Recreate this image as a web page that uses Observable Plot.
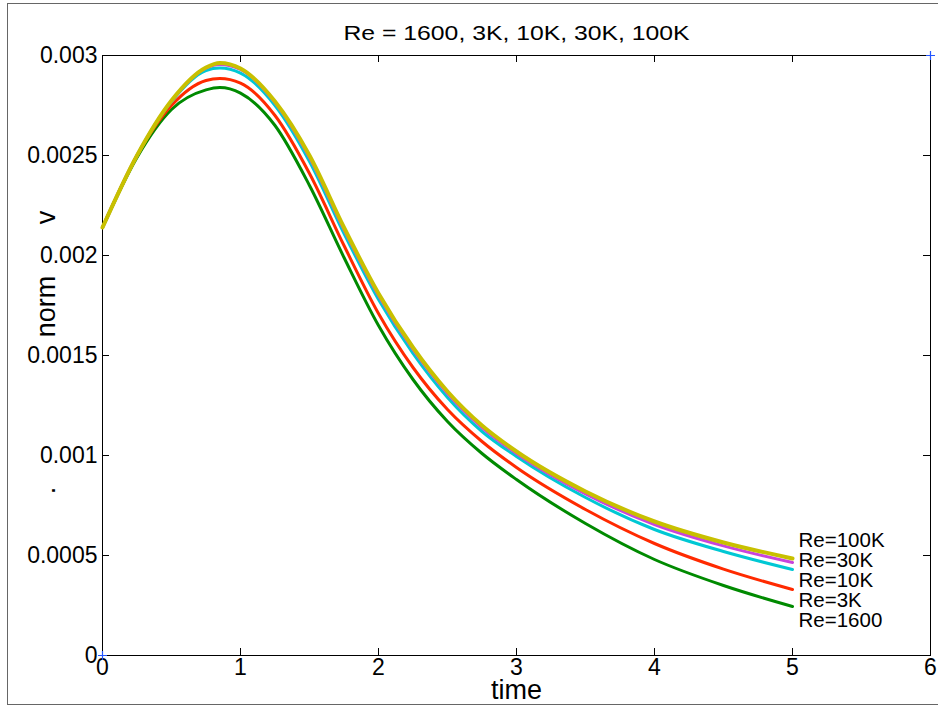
<!DOCTYPE html>
<html>
<head>
<meta charset="utf-8">
<script src="https://cdn.jsdelivr.net/npm/d3@7"></script>
<script src="https://cdn.jsdelivr.net/npm/@observablehq/plot@0.6"></script>
<style>
  html, body { margin: 0; padding: 0; background: #fff; }
  #wrap { position: relative; width: 938px; height: 708px; overflow: hidden; }
  #border { position: absolute; left: 7px; top: 3px; width: 940px; height: 702px; border: 1px solid #666; box-sizing: border-box; pointer-events: none; }
</style>
</head>
<body>
<div id="wrap"><div id="border"></div></div>
<script>
const titleText = "Re = 1600, 3K, 10K, 30K, 100K";
const xLabel = "time";
const yLabelParts = ["v", "norm", "."];
const times  = [0, 0.25, 0.5, 0.75, 0.85, 1, 1.25, 1.5, 1.75, 2, 2.25, 2.5, 2.75, 3, 3.5, 4, 4.5, 5];
const re1600 = [0.00214, 0.00249, 0.00273, 0.002828, 0.00284, 0.002812, 0.00265, 0.00235, 0.00199, 0.00165, 0.00138, 0.00117, 0.00101, 0.00088, 0.00066, 0.00048, 0.00035, 0.000245];
const re3K   = [0.00214, 0.0025, 0.00275, 0.002875, 0.002885, 0.002862, 0.0027, 0.00241, 0.00205, 0.00171, 0.00144, 0.00123, 0.00107, 0.00094, 0.00073, 0.00056, 0.000432, 0.00033];
const re10K  = [0.00214, 0.0025, 0.00277, 0.002925, 0.002937, 0.002912, 0.00275, 0.00247, 0.00211, 0.00178, 0.00151, 0.00129, 0.00112, 0.000995, 0.00079, 0.00063, 0.00052, 0.00043];
const re30K  = [0.00214, 0.0025, 0.002773, 0.002937, 0.002955, 0.00293, 0.002765, 0.00249, 0.00213, 0.0018, 0.00153, 0.00131, 0.00114, 0.00101, 0.000808, 0.000655, 0.000548, 0.000465];
const re100K = [0.00214, 0.0025, 0.002775, 0.00294, 0.002963, 0.002935, 0.00277, 0.0025, 0.00214, 0.00181, 0.00154, 0.00132, 0.00115, 0.00102, 0.00082, 0.00067, 0.000565, 0.000485];
const seriesNames = ["Re=1600", "Re=3K", "Re=10K", "Re=30K", "Re=100K"];
const seriesValues = [re1600, re3K, re10K, re30K, re100K];
const seriesColors = ["#008a00", "#ff2a00", "#00c8d4", "#c844dc", "#c8c000"];
const xTicks = [0, 1, 2, 3, 4, 5, 6];
const yTicks = [0, 0.0005, 0.001, 0.0015, 0.002, 0.0025, 0.003];
const yTickLabels = ["0", "0.0005", "0.001", "0.0015", "0.002", "0.0025", "0.003"];

const W = 938, H = 708, ML = 102, MR = 8, MT = 55, MB = 53;
const rows = [];
seriesNames.forEach((name, i) => {
  times.forEach((t, j) => rows.push({series: name, t, v: seriesValues[i][j]}));
});
const xDomain = [xTicks[0], xTicks[xTicks.length - 1]];
const yDomain = [yTicks[0], yTicks[yTicks.length - 1]];
const corners = [{t: xDomain[0], v: yDomain[0]}, {t: xDomain[1], v: yDomain[1]}];
const lastT = times[times.length - 1];
const topEnd = re100K[re100K.length - 1];
const legendOrder = seriesNames.slice().reverse();
const fontFam = "'Liberation Sans', Arial, Helvetica, sans-serif";

// inward tick length (7px) expressed in data units of each scale
const TL = 7;
const tickDX = (xDomain[1] - xDomain[0]) * TL / (W - ML - MR);
const tickDY = (yDomain[1] - yDomain[0]) * TL / (H - MT - MB);

const marks = [
  Plot.frame({stroke: "black", strokeWidth: 1}),
  Plot.ruleX(xTicks, {x: d => d, y1: () => yDomain[0], y2: () => yDomain[0] + tickDY, stroke: "black", strokeWidth: 1}),
  Plot.ruleX(xTicks, {x: d => d, y1: () => yDomain[1], y2: () => yDomain[1] - tickDY, stroke: "black", strokeWidth: 1}),
  Plot.ruleY(yTicks, {y: d => d, x1: () => xDomain[0], x2: () => xDomain[0] + tickDX, stroke: "black", strokeWidth: 1}),
  Plot.ruleY(yTicks, {y: d => d, x1: () => xDomain[1], x2: () => xDomain[1] - tickDX, stroke: "black", strokeWidth: 1}),
  Plot.axisX({ticks: xTicks, tickSize: 0, tickPadding: 3, label: null, anchor: "bottom", fontSize: 23, tickFormat: d => String(d)}),
  Plot.axisY({ticks: yTicks, tickSize: 0, tickPadding: 5, label: null, anchor: "left", fontSize: 23, tickFormat: (d, i) => yTickLabels[i]}),
];
seriesNames.forEach((name, i) => {
  marks.push(Plot.line(rows.filter(r => r.series === name), {
    x: "t", y: "v", stroke: seriesColors[i], strokeWidth: i === 4 ? 4 : 3, curve: "monotone-x"
  }));
});
marks.push(Plot.dot(corners, {x: "t", y: "v", symbol: "plus", r: 3, stroke: "#2255ff", strokeWidth: 1.2}));
legendOrder.forEach((name, k) => {
  marks.push(Plot.text([name], {x: () => lastT, y: () => topEnd, text: d => d, textAnchor: "start", dx: 6, dy: -18 + 20 * k, fontSize: 20.5, fill: "black"}));
});
marks.push(
  Plot.text([titleText], {frameAnchor: "top", lineAnchor: "middle", dy: -22, fontSize: 20, fill: "black"}),
  Plot.text([xLabel], {frameAnchor: "bottom", lineAnchor: "middle", dy: 35, fontSize: 27, fill: "black"}),
  Plot.text([
    {s: yLabelParts[0], v: 0.00219},
    {s: yLabelParts[1], v: 0.001745},
    {s: yLabelParts[2], v: 0.000825}
  ], {frameAnchor: "left", y: "v", text: "s", dx: -56, rotate: -90, textAnchor: "middle", lineAnchor: "middle", fontSize: 27, fill: "black"})
);

const chart = Plot.plot({
  width: W,
  height: H,
  marginLeft: ML,
  marginRight: MR,
  marginTop: MT,
  marginBottom: MB,
  style: {fontFamily: fontFam, background: "white", color: "black", overflow: "visible"},
  x: {domain: xDomain, axis: null},
  y: {domain: yDomain, axis: null},
  marks
});
document.getElementById("wrap").insertBefore(chart, document.getElementById("border"));
d3.select(chart).selectAll("text")
  .filter(function() { return this.textContent === titleText; })
  .attr("textLength", 346)
  .attr("lengthAdjust", "spacingAndGlyphs");
</script>
</body>
</html>
